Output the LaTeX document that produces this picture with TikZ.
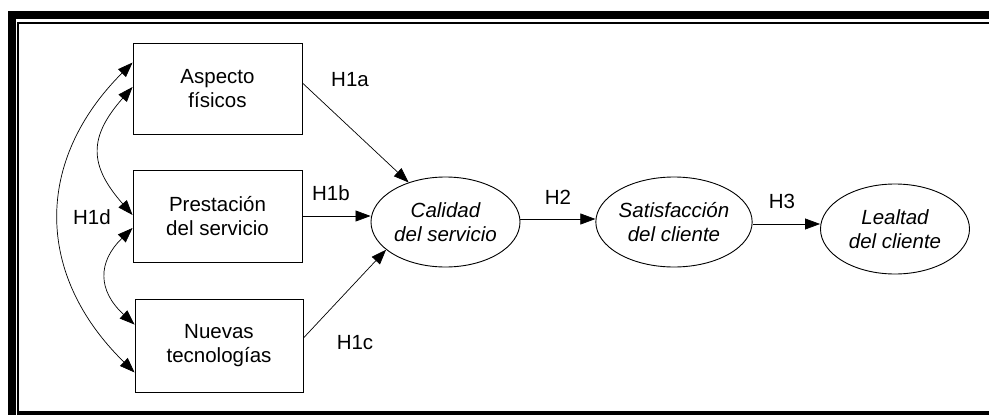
\documentclass[tikz,border=0pt]{standalone}
\usepackage{fontspec}
\setmainfont{Liberation Sans}
\usetikzlibrary{arrows.meta,shapes.geometric,calc}
\begin{document}
\begin{tikzpicture}[x=1pt,y=-1pt,
 box/.style={draw,line width=0.9pt,minimum width=169pt,minimum height=91pt,inner sep=0pt,align=center,font=\fontsize{20.5}{24}\selectfont},
 oval/.style={draw,ellipse,line width=0.9pt,minimum width=149pt,minimum height=90pt,inner sep=0pt,align=center,font=\fontsize{20.5}{24.5}\selectfont\itshape},
 lbl/.style={font=\fontsize{20.5}{24}\selectfont,inner sep=0pt},
 arr/.style={line width=0.7pt,-{Triangle[length=15pt,width=11pt]}},
 dbl/.style={line width=0.7pt,{Triangle[length=15pt,width=11pt]}-{Triangle[length=15pt,width=11pt]}},
 frm/.style={fill=black}]
\useasboundingbox (0,0) rectangle (989,415);
% frame
\fill[frm] (8,11) rectangle (989,19);
\fill[frm] (8,11) rectangle (16,415);
\fill[frm] (17.3,21.5) rectangle (989,23.5);
\fill[frm] (17.3,21.5) rectangle (19.1,415);
\fill[frm] (17.3,410.7) rectangle (989,415);
% nodes
\node[box] (asp) at (217.5,88.5) {Aspecto\\físicos};
\node[box,minimum height=92pt] (pre) at (217.5,216) {Prestación\\del servicio};
\node[box,minimum width=168pt,minimum height=93pt] (nue) at (219,345.5) {Nuevas\\tecnologías};
\node[oval] (cal) at (445.5,222) {Calidad\\del servicio};
\node[oval] (sat) at (674,222) {Satisfacción\\del cliente};
\node[oval] (lea) at (895,229) {Lealtad\\del cliente};
% labels
\node[lbl] (h1a) at (350,80) {H1a};
\node[lbl] (h1b) at (331,193) {H1b};
\node[lbl] (h1c) at (355,343) {H1c};
\node[lbl] (h1d) at (92,217) {H1d};
\node[lbl] (h2) at (558,197) {H2};
\node[lbl] (h3) at (782,201) {H3};
% connectors
\draw[arr] ($(asp.east)+(0,-5.5)$) -- (cal.133);
\draw[arr] (pre.east) -- (pre.east -| cal.west);
\draw[arr] ($(nue.east)+(0,-7.5)$) -- (cal.205);
\coordinate (c2) at ($(cal.east)+(0,-3)$);
\draw[arr] (c2) -- (c2 -| sat.west);
\coordinate (c3) at ($(sat.east)+(0,2)$);
\draw[arr] (c3) -- (c3 -| lea.west);
% correlations
\draw[dbl] ($(asp.north west)+(0,20)$) .. controls +(-98,98) and +(-100,-98) .. ($(nue.south west)+(0,-20)$);
\draw[dbl] ($(asp.west)+(0,-1.5)$) .. controls +(-44,50) and +(-44,-50) .. ($(pre.west)+(0,-1)$);
\draw[dbl] ($(pre.west)+(0,12)$) .. controls +(-35,34) and +(-37,-34) .. ($(nue.north west)+(0,26)$);
\end{tikzpicture}
\end{document}
